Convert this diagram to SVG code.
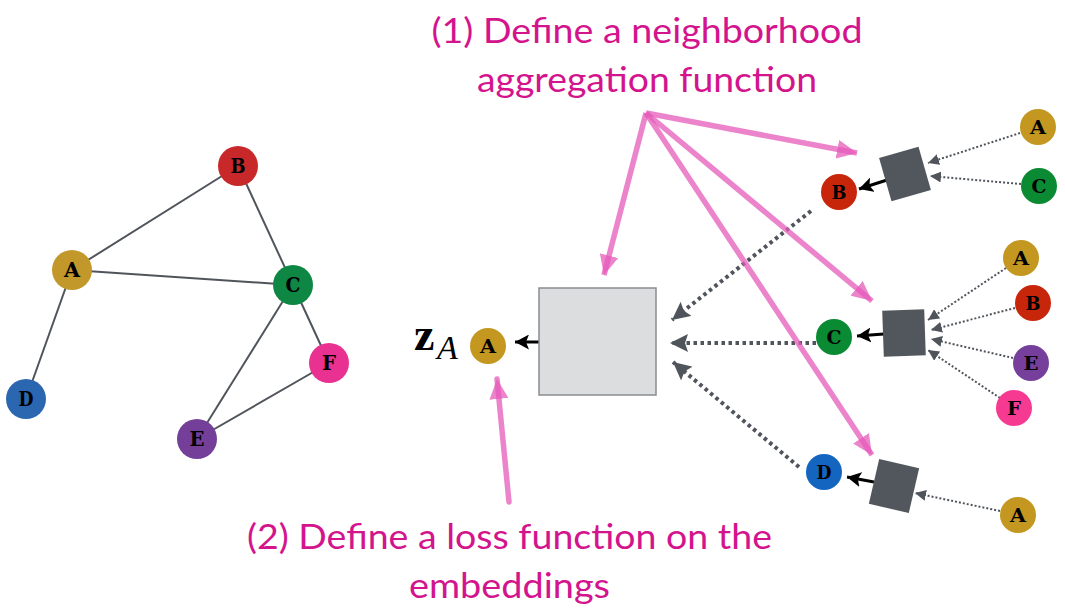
<svg xmlns="http://www.w3.org/2000/svg" width="1065" height="614" viewBox="0 0 1065 614">
<style>
.edge{stroke:#50555C;stroke-width:2;fill:none}
.pink{stroke:#E55BBA;stroke-opacity:0.75;stroke-width:5.5;fill:none}
.dotT{stroke:#50555C;stroke-width:4;stroke-dasharray:3.5 3.5;fill:none}
.dot{stroke:#50555C;stroke-width:2;stroke-dasharray:2 2;fill:none}
.blk{stroke:#000;stroke-width:3;fill:none}
.agg{fill:#52565D}
.cap{font-family:Lato,"Open Sans",sans-serif;font-size:34px;fill:#D3148D;text-anchor:middle}
</style>
<defs>
<marker id="mPink" markerUnits="userSpaceOnUse" markerWidth="21" markerHeight="19" refX="20" refY="9.5" orient="auto"><path d="M0,0 L20,9.5 L0,19 Z" fill="#E55BBA" fill-opacity="0.75"/></marker>
<marker id="mGrayT" markerUnits="userSpaceOnUse" markerWidth="19" markerHeight="18" refX="18" refY="9" orient="auto"><path d="M0,0 L18,9 L0,18 L3,9 Z" fill="#50555C"/></marker>
<marker id="mGray" markerUnits="userSpaceOnUse" markerWidth="12" markerHeight="11" refX="11" refY="5.5" orient="auto"><path d="M0,0 L11,5.5 L0,11 Z" fill="#50555C"/></marker>
<marker id="mBlk" markerUnits="userSpaceOnUse" markerWidth="15" markerHeight="15" refX="14" refY="7.5" orient="auto"><path d="M0,0 L14,7.5 L0,15 L3,7.5 Z" fill="#000"/></marker>
</defs>
<rect width="1065" height="614" fill="#fff"/>

<g id="connectors">
<line class="edge" x1="72" y1="270" x2="238" y2="166"/>
<line class="edge" x1="238" y1="166" x2="293" y2="285"/>
<line class="edge" x1="72" y1="270" x2="293" y2="285"/>
<line class="edge" x1="72" y1="270" x2="26" y2="399"/>
<line class="edge" x1="293" y1="285" x2="197" y2="439"/>
<line class="edge" x1="293" y1="285" x2="329" y2="363"/>
<line class="edge" x1="197" y1="439" x2="329" y2="363"/>
<line class="dotT" x1="811" y1="211" x2="672" y2="320" marker-end="url(#mGrayT)"/>
<line class="dotT" x1="816" y1="343" x2="670" y2="343" marker-end="url(#mGrayT)"/>
<line class="dotT" x1="799" y1="467" x2="673" y2="362" marker-end="url(#mGrayT)"/>
<line class="dot" x1="1020" y1="133" x2="928" y2="163" marker-end="url(#mGray)"/>
<line class="dot" x1="1021" y1="184" x2="930" y2="176" marker-end="url(#mGray)"/>
<line class="dot" x1="1006" y1="268" x2="928" y2="320" marker-end="url(#mGray)"/>
<line class="dot" x1="1015" y1="308" x2="931" y2="330" marker-end="url(#mGray)"/>
<line class="dot" x1="1013" y1="358" x2="931" y2="339" marker-end="url(#mGray)"/>
<line class="dot" x1="1000" y1="398" x2="928" y2="350" marker-end="url(#mGray)"/>
<line class="dot" x1="1000" y1="511" x2="915" y2="493" marker-end="url(#mGray)"/>
<line class="blk" x1="887" y1="180" x2="859" y2="189" marker-end="url(#mBlk)"/>
<line class="blk" x1="884" y1="334" x2="857" y2="336" marker-end="url(#mBlk)"/>
<line class="blk" x1="874" y1="482" x2="847" y2="477" marker-end="url(#mBlk)"/>
<line class="blk" x1="540" y1="342" x2="515" y2="342" marker-end="url(#mBlk)"/>
</g>

<g id="left-graph" font-family="'DejaVu Serif', 'Liberation Serif', serif" font-weight="bold" font-size="20" text-anchor="middle" fill="#000">
<g id="nA"><circle cx="72" cy="270" r="20" fill="#C3982B"/><text x="72" y="276.5" textLength="16" lengthAdjust="spacingAndGlyphs">A</text></g>
<g id="nB"><circle cx="238" cy="166" r="20" fill="#C8282A"/><text x="238" y="172.5" textLength="15" lengthAdjust="spacingAndGlyphs">B</text></g>
<g id="nC"><circle cx="293" cy="285" r="20" fill="#0E8744"/><text x="293" y="291.5" textLength="15" lengthAdjust="spacingAndGlyphs">C</text></g>
<g id="nD"><circle cx="26" cy="399" r="20" fill="#2B67B0"/><text x="26" y="405.5" textLength="15" lengthAdjust="spacingAndGlyphs">D</text></g>
<g id="nE"><circle cx="197" cy="439" r="20" fill="#743F99"/><text x="197" y="445.5" textLength="15" lengthAdjust="spacingAndGlyphs">E</text></g>
<g id="nF"><circle cx="329" cy="363" r="20" fill="#E93191"/><text x="329" y="369.5" textLength="14" lengthAdjust="spacingAndGlyphs">F</text></g>
</g>

<g id="target">
<text x="414" y="350" font-family="'Liberation Serif',serif" font-weight="bold" font-size="46">z</text>
<text x="437" y="359" font-family="'Liberation Serif',serif" font-style="italic" font-size="34">A</text>
<circle cx="488" cy="346" r="18" fill="#C39720"/><text x="488" y="352.5" font-family="'DejaVu Serif', 'Liberation Serif', serif" font-weight="bold" font-size="19" text-anchor="middle" textLength="16" lengthAdjust="spacingAndGlyphs">A</text>
</g>

<g id="box"><rect x="539" y="288" width="117" height="107" fill="#DCDDDF" stroke="#8A8C90" stroke-width="1.5"/></g>

<g id="aggregators" font-family="'DejaVu Serif', 'Liberation Serif', serif" font-weight="bold" font-size="19" text-anchor="middle" fill="#000">
<g id="agg1">
<rect class="agg" x="-20.5" y="-22.5" width="41" height="45" transform="translate(905,174) rotate(-16)"/>
<circle cx="839" cy="192" r="18" fill="#C8260A"/><text x="839" y="198.5" textLength="15" lengthAdjust="spacingAndGlyphs">B</text>
<circle cx="1038" cy="127" r="18" fill="#C39720"/><text x="1038" y="133.5" textLength="16" lengthAdjust="spacingAndGlyphs">A</text>
<circle cx="1039" cy="186" r="18" fill="#0A8A32"/><text x="1039" y="192.5" textLength="15" lengthAdjust="spacingAndGlyphs">C</text>
</g>
<g id="agg2">
<rect class="agg" x="-21" y="-23" width="42" height="46" transform="translate(904,333) rotate(-2)"/>
<circle cx="834" cy="337" r="18" fill="#0A8A32"/><text x="834" y="343.5" textLength="15" lengthAdjust="spacingAndGlyphs">C</text>
<circle cx="1021" cy="258" r="18" fill="#C39720"/><text x="1021" y="264.5" textLength="16" lengthAdjust="spacingAndGlyphs">A</text>
<circle cx="1033" cy="303" r="18" fill="#C8260A"/><text x="1033" y="309.5" textLength="15" lengthAdjust="spacingAndGlyphs">B</text>
<circle cx="1031" cy="363" r="18" fill="#763F9B"/><text x="1031" y="369.5" textLength="15" lengthAdjust="spacingAndGlyphs">E</text>
<circle cx="1014" cy="408" r="18" fill="#F63A92"/><text x="1014" y="414.5" textLength="14" lengthAdjust="spacingAndGlyphs">F</text>
</g>
<g id="agg3">
<rect class="agg" x="-20.5" y="-23" width="41" height="46" transform="translate(894,486) rotate(13)"/>
<circle cx="824" cy="472" r="18" fill="#1465C0"/><text x="824" y="478.5" textLength="15" lengthAdjust="spacingAndGlyphs">D</text>
<circle cx="1018" cy="515" r="18" fill="#C39720"/><text x="1018" y="521.5" textLength="16" lengthAdjust="spacingAndGlyphs">A</text>
</g>
</g>

<g id="annotations">
<line class="pink" x1="646" y1="113" x2="857" y2="153" marker-end="url(#mPink)"/>
<line class="pink" x1="646" y1="113" x2="604" y2="275" marker-end="url(#mPink)"/>
<line class="pink" x1="646" y1="113" x2="872" y2="301" marker-end="url(#mPink)"/>
<line class="pink" x1="646" y1="113" x2="872" y2="455" marker-end="url(#mPink)"/>
<line class="pink" x1="509" y1="502" x2="497" y2="379" marker-end="url(#mPink)" stroke-linecap="round"/>
<text class="cap" x="647" y="43" textLength="431" lengthAdjust="spacingAndGlyphs">(1) Define a neighborhood</text>
<text class="cap" x="647" y="92" textLength="340" lengthAdjust="spacingAndGlyphs">aggregation function</text>
<text class="cap" x="509.5" y="549" textLength="525" lengthAdjust="spacingAndGlyphs">(2) Define a loss function on the</text>
<text class="cap" x="509.5" y="598" textLength="201" lengthAdjust="spacingAndGlyphs">embeddings</text>
</g>
</svg>
